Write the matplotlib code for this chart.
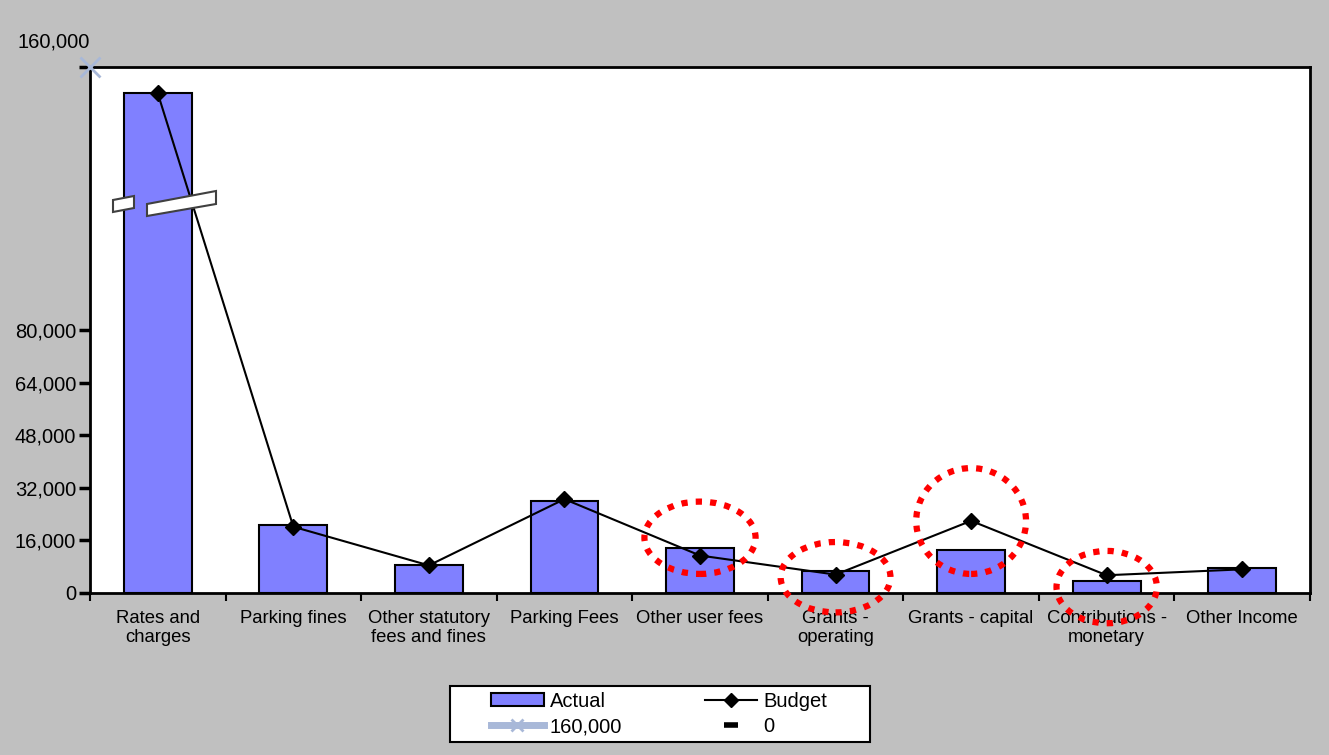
import numpy as np
import matplotlib
matplotlib.use("Agg")
import matplotlib.pyplot as plt
from matplotlib.patches import Ellipse, Polygon, Patch, Rectangle
from matplotlib.lines import Line2D

plt.rcParams['font.family'] = ['Liberation Sans', 'DejaVu Sans']

categories = ["Rates and\ncharges", "Parking fines", "Other statutory\nfees and fines",
              "Parking Fees", "Other user fees", "Grants -\noperating", "Grants - capital",
              "Contributions -\nmonetary", "Other Income"]
actual = [152000, 20750, 8400, 27950, 13800, 6700, 13150, 3700, 7700]
budget = [152000, 20150, 8400, 28550, 11400, 5600, 21950, 5400, 7200]
top_value = 160000
ytick_vals = [0, 16000, 32000, 48000, 64000, 80000, 160000]
ytick_labels = ["0", "16,000", "32,000", "48,000", "64,000", "80,000", ""]

# circled categories: (index, centre value, width in categories, height in value units)
highlights = [(4, 16800, 0.82, 22000), (5, 4800, 0.81, 21400),
              (6, 21900, 0.81, 32200), (7, 1800, 0.74, 22000)]

W, H = 1329, 755
fig = plt.figure(figsize=(W / 100, H / 100), dpi=100, facecolor="#C0C0C0")
ax = fig.add_axes([90 / W, 1 - 593 / H, 1220 / W, 526 / H])
ax.set_facecolor("white")

x = np.arange(len(categories))
ax.bar(x, actual, width=0.5, color="#8080FF", edgecolor="black", linewidth=1.5, zorder=2)
ax.plot(x, budget, color="black", lw=1.5, marker="D", ms=8, zorder=3)

# reference series at the axis corner
ax.plot([-0.5], [top_value], marker="x", color="#A8B8D8", ms=14, mew=2, clip_on=False, zorder=5)
ax.annotate("160,000", (-0.5, top_value), xytext=(0, 18), textcoords="offset points",
            ha="right", va="center", fontsize=14.5)

ax.set_xlim(-0.5, len(categories) - 0.5)
ax.set_ylim(0, top_value)
ax.set_yticks(ytick_vals)
ax.set_yticklabels(ytick_labels, fontsize=14.5)
ax.tick_params(axis="y", direction="out", length=8, width=2.5, pad=2)

ax.set_xticks(x)
ax.set_xticklabels(categories, fontsize=13.3, linespacing=1.15)
ax.tick_params(axis="x", which="major", length=0, pad=12)
ax.set_xticks(np.arange(-0.5, len(categories), 1), minor=True)
ax.tick_params(axis="x", which="minor", direction="out", length=6, width=1.5)

for s in ax.spines.values():
    s.set_linewidth(2)
    s.set_color("black")

for idx, cy, w, h in highlights:
    ax.add_patch(Ellipse((idx, cy), w, h, fill=False, edgecolor="#FF0000",
                         linestyle=(0, (1, 1.3)), lw=4.5, clip_on=False, zorder=6))


def px(pts):
    return [(a / W, 1 - b / H) for a, b in pts]


# axis break marks across the first bar
for pts in ([(113, 200), (134, 196), (134, 208), (113, 212)],
            [(147, 204), (216, 191), (216, 204), (147, 216)]):
    fig.add_artist(Polygon(px(pts), closed=True, facecolor="white", edgecolor="#404040",
                           lw=1.5, transform=fig.transFigure, zorder=10))

# legend box drawn separately so it can be wider than its entries
fig.add_artist(Rectangle((450 / W, 1 - 742 / H), 420 / W, 56 / H, transform=fig.transFigure,
                         facecolor="white", edgecolor="black", lw=1.5, zorder=8))

handles = [Patch(facecolor="#8080FF", edgecolor="black", lw=1.5),
           Line2D([], [], color="#A8B8D8", lw=5, marker="x", ms=8, mew=2),
           Line2D([], [], color="black", lw=1.5, marker="D", ms=7),
           Line2D([], [], color="black", lw=0, marker="_", ms=10, mew=4)]
labels = ["Actual", "160,000", "Budget", "0"]
leg = fig.legend(handles, labels, ncol=2, loc="center", bbox_to_anchor=(659 / W, 1 - 714 / H),
                 fontsize=14.5, frameon=False,
                 handlelength=2.6, handleheight=0.6, columnspacing=4.1, labelspacing=0.3,
                 borderpad=0.3, handletextpad=0.3, borderaxespad=0)
leg.set_zorder(9)

fig.savefig("out.png", dpi=100, facecolor=fig.get_facecolor())
